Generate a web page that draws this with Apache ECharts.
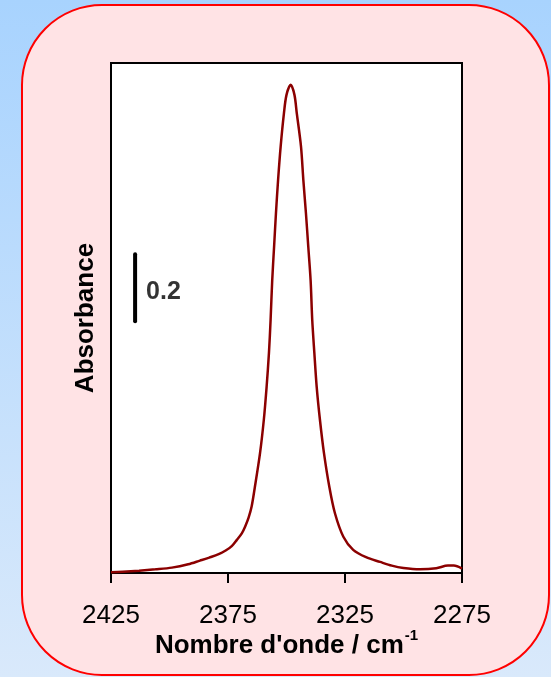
<!DOCTYPE html>
<html>
<head>
<meta charset="utf-8">
<script src="https://cdn.jsdelivr.net/npm/echarts@6/dist/echarts.min.js"></script>
<style>
html,body{margin:0;padding:0;}
#chart{width:551px;height:677px;}
</style>
</head>
<body>
<div id="chart"></div>
<script>
// Spectrum data (wavenumber in cm-1, absorbance)
const wavenumbers = [2425,2420,2413,2406,2399,2392,2387,2383,2379,2376,2373.4,2371.3,2369.1,2367.7,2366.2,2364.9,2363.5,2361.3,2359.7,2358.5,2357.5,2356.8,2356.1,2355.3,2354.5,2353.6,2352.5,2351.1,2350.0,2348.2,2346.6,2345.6,2343.8,2342.8,2341.7,2340.7,2339.7,2339.0,2338.1,2337.1,2335.7,2334.0,2331.7,2329.3,2325.7,2321.5,2316,2310,2305,2300,2293,2286,2281,2278.5,2275];
const absorbance = [0.002,0.004,0.007,0.011,0.016,0.026,0.037,0.046,0.056,0.067,0.080,0.098,0.118,0.138,0.165,0.198,0.257,0.358,0.456,0.555,0.656,0.754,0.873,0.973,1.073,1.171,1.271,1.370,1.425,1.455,1.425,1.370,1.271,1.171,1.073,0.973,0.873,0.754,0.656,0.555,0.456,0.358,0.257,0.178,0.108,0.069,0.047,0.033,0.022,0.015,0.011,0.014,0.022,0.022,0.013];
const xTickLabels = [2425, 2375, 2325, 2275];
// Scale bar: 0.2 absorbance units
const scaleBarX = 2414.7;
const scaleBarY = [0.75, 0.95];
const scaleBarLabel = '0.2';

const spectrum = wavenumbers.map((w, i) => [w, absorbance[i]]);
const FONT = 'Liberation Sans, Arial, sans-serif';

const chart = echarts.init(document.getElementById('chart'));
chart.setOption({
  animation: false,
  backgroundColor: new echarts.graphic.LinearGradient(0, 0, 0, 1, [
    {offset: 0, color: '#a8d3fe'},
    {offset: 1, color: '#d9e9fb'}
  ]),
  graphic: {
    elements: [{
      type: 'rect',
      z: -100,
      shape: {x: 22, y: 5, width: 527, height: 670, r: 80},
      style: {fill: '#ffe3e5', stroke: '#ff0000', lineWidth: 2}
    }]
  },
  grid: {
    left: 111, right: 89, top: 63, bottom: 104,
    show: true, backgroundColor: '#ffffff', borderColor: '#000000', borderWidth: 2
  },
  xAxis: {
    type: 'value',
    inverse: true,
    min: 2275, max: 2425,
    splitLine: {show: false},
    axisLine: {show: true, lineStyle: {color: '#000', width: 2}},
    axisTick: {show: true, length: 10, lineStyle: {color: '#000', width: 2}, customValues: xTickLabels},
    axisLabel: {color: '#000', fontSize: 26, fontFamily: FONT, margin: 30, customValues: xTickLabels,
      formatter: v => String(v)},
    name: '{a|Nombre d\'onde / cm}{s|-1}',
    nameLocation: 'middle',
    nameGap: 55,
    nameMoveOverlap: false,
    nameTextStyle: {
      color: '#000',
      fontFamily: FONT,
      rich: {
        a: {fontSize: 26, lineHeight: 36, fontWeight: 'bold', color: '#000', fontFamily: FONT},
        s: {fontSize: 15, lineHeight: 15, fontWeight: 'bold', color: '#000', verticalAlign: 'top', padding: [0, 0, 0, 1], fontFamily: FONT}
      }
    }
  },
  yAxis: {
    type: 'value',
    min: 0, max: 1.52,
    splitLine: {show: false},
    axisLine: {show: false},
    axisTick: {show: false},
    axisLabel: {show: false},
    name: 'Absorbance',
    nameLocation: 'middle',
    nameGap: 12,
    nameTextStyle: {color: '#000', fontSize: 26, fontWeight: 'bold', fontFamily: FONT}
  },
  series: [
    {
      type: 'line',
      data: spectrum,
      showSymbol: false,
      smooth: 0.3,
      lineStyle: {color: '#8b0000', width: 2.5},
      z: 3
    },
    {
      type: 'line',
      data: scaleBarY.map(v => [scaleBarX, v]),
      showSymbol: false,
      lineStyle: {color: '#000', width: 4, cap: 'round'},
      z: 4
    },
    {
      type: 'scatter',
      data: [[scaleBarX, (scaleBarY[0] + scaleBarY[1]) / 2]],
      symbolSize: 0,
      label: {
        show: true, position: 'right', distance: 11, offset: [0, 4],
        formatter: scaleBarLabel,
        color: '#000', fontSize: 25, fontWeight: 'bold', fontFamily: FONT
      },
      z: 4
    }
  ]
});
</script>
</body>
</html>
